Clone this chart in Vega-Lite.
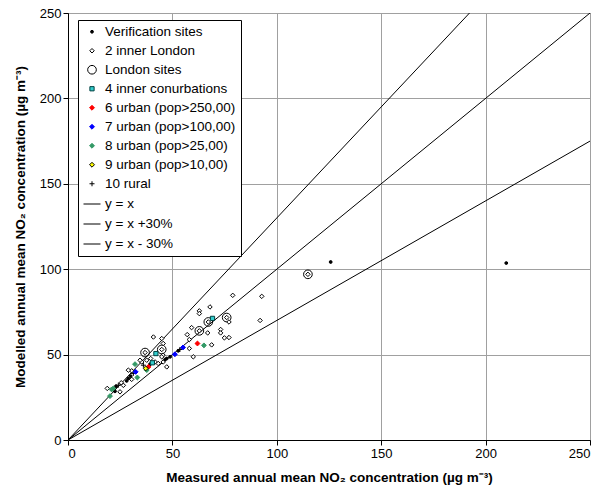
{
  "$schema": "https://vega.github.io/schema/vega-lite/v6.json",
  "width": 522,
  "height": 427,
  "autosize": {"type": "none"},
  "padding": {"left": 68, "top": 13, "right": 10, "bottom": 51},
  "background": "white",
  "config": {
    "view": {"stroke": "black", "strokeWidth": 1},
    "font": "Liberation Sans",
    "axis": {
      "grid": true, "gridColor": "#a0a0a0", "gridWidth": 1, "gridOpacity": 1,
      "domainColor": "black", "tickColor": "black", "tickSize": 5, "labelPadding": 2,
      "labelFont": "Liberation Sans", "labelFontSize": 13, "labelColor": "black",
      "titleFont": "Liberation Sans", "titleFontSize": 13.5, "titleFontWeight": "bold", "titleColor": "black"
    },
    "legend": {
      "title": null, "orient": "none", "legendX": 10, "legendY": 7,
      "strokeColor": "black", "fillColor": "white", "padding": 5,
      "labelFont": "Liberation Sans", "labelFontSize": 13.5, "labelColor": "black",
      "rowPadding": 4, "labelOffset": 4, "labelLimit": 300, "symbolStrokeWidth": 1
    }
  },
  "datasets": {
    "pts": [
      {"group": "London sites", "x": 114.9, "y": 97},
      {"group": "London sites", "x": 76, "y": 71.7},
      {"group": "London sites", "x": 67.2, "y": 69.1},
      {"group": "London sites", "x": 62.9, "y": 63.9},
      {"group": "London sites", "x": 44.9, "y": 53},
      {"group": "London sites", "x": 36.9, "y": 51.2},
      {"group": "2 inner London", "x": 114.9, "y": 97},
      {"group": "2 inner London", "x": 76, "y": 71.7},
      {"group": "2 inner London", "x": 67.2, "y": 69.1},
      {"group": "2 inner London", "x": 62.9, "y": 63.9},
      {"group": "2 inner London", "x": 44.9, "y": 53},
      {"group": "2 inner London", "x": 36.9, "y": 51.2},
      {"group": "2 inner London", "x": 92.8, "y": 84.1},
      {"group": "2 inner London", "x": 92, "y": 70},
      {"group": "2 inner London", "x": 78.9, "y": 84.7},
      {"group": "2 inner London", "x": 68, "y": 77.9},
      {"group": "2 inner London", "x": 62.9, "y": 75.6},
      {"group": "2 inner London", "x": 62.9, "y": 74.0},
      {"group": "2 inner London", "x": 77.1, "y": 69.1},
      {"group": "2 inner London", "x": 66.9, "y": 62.7},
      {"group": "2 inner London", "x": 73.1, "y": 64.7},
      {"group": "2 inner London", "x": 73.1, "y": 62.7},
      {"group": "2 inner London", "x": 74.9, "y": 59.8},
      {"group": "2 inner London", "x": 77.1, "y": 60},
      {"group": "2 inner London", "x": 68.8, "y": 55.7},
      {"group": "2 inner London", "x": 58.1, "y": 58.8},
      {"group": "2 inner London", "x": 58.1, "y": 53.6},
      {"group": "2 inner London", "x": 60, "y": 48.7},
      {"group": "2 inner London", "x": 59.2, "y": 65.8},
      {"group": "2 inner London", "x": 57.1, "y": 61.7},
      {"group": "2 inner London", "x": 40.9, "y": 60.3},
      {"group": "2 inner London", "x": 44.9, "y": 59.4},
      {"group": "2 inner London", "x": 45.6, "y": 56.5},
      {"group": "2 inner London", "x": 45.5, "y": 49.7},
      {"group": "2 inner London", "x": 44.9, "y": 48.7},
      {"group": "2 inner London", "x": 45.6, "y": 45.7},
      {"group": "2 inner London", "x": 47.3, "y": 42.8},
      {"group": "2 inner London", "x": 39.6, "y": 47.7},
      {"group": "2 inner London", "x": 37.7, "y": 46.7},
      {"group": "2 inner London", "x": 35.3, "y": 45.7},
      {"group": "2 inner London", "x": 34.5, "y": 46.7},
      {"group": "2 inner London", "x": 43.2, "y": 44.8},
      {"group": "2 inner London", "x": 41.7, "y": 45.7},
      {"group": "2 inner London", "x": 30.5, "y": 40.5},
      {"group": "2 inner London", "x": 28.9, "y": 40.9},
      {"group": "2 inner London", "x": 26.5, "y": 32},
      {"group": "2 inner London", "x": 24.9, "y": 28.2},
      {"group": "2 inner London", "x": 18.8, "y": 30.2},
      {"group": "2 inner London", "x": 30.5, "y": 35.5},
      {"group": "2 inner London", "x": 25.5, "y": 33.5},
      {"group": "Verification sites", "x": 209.9, "y": 103.6},
      {"group": "Verification sites", "x": 125.8, "y": 104.2},
      {"group": "Verification sites", "x": 52.8, "y": 52.2},
      {"group": "Verification sites", "x": 48.9, "y": 48.7},
      {"group": "Verification sites", "x": 47.3, "y": 47.7},
      {"group": "Verification sites", "x": 46.5, "y": 47.1},
      {"group": "Verification sites", "x": 30, "y": 37.4},
      {"group": "Verification sites", "x": 28.9, "y": 36},
      {"group": "Verification sites", "x": 28.1, "y": 34.6},
      {"group": "Verification sites", "x": 23, "y": 31.5},
      {"group": "Verification sites", "x": 39.3, "y": 44.4},
      {"group": "Verification sites", "x": 22.5, "y": 28.5},
      {"group": "10 rural", "x": 53.6, "y": 53},
      {"group": "10 rural", "x": 31.3, "y": 39},
      {"group": "10 rural", "x": 24.1, "y": 32.1},
      {"group": "10 rural", "x": 36.1, "y": 43.8},
      {"group": "4 inner conurbations", "x": 69.2, "y": 71.2},
      {"group": "4 inner conurbations", "x": 42.1, "y": 50.6},
      {"group": "4 inner conurbations", "x": 40.4, "y": 45.2},
      {"group": "6 urban (pop>250,00)", "x": 62, "y": 56.5},
      {"group": "6 urban (pop>250,00)", "x": 38.5, "y": 42.8},
      {"group": "7 urban (pop>100,00)", "x": 55.1, "y": 54.2},
      {"group": "7 urban (pop>100,00)", "x": 51.2, "y": 50.2},
      {"group": "7 urban (pop>100,00)", "x": 32.4, "y": 39.9},
      {"group": "8 urban (pop>25,00)", "x": 65.1, "y": 55.4},
      {"group": "8 urban (pop>25,00)", "x": 32.1, "y": 44.4},
      {"group": "8 urban (pop>25,00)", "x": 37.7, "y": 40.9},
      {"group": "8 urban (pop>25,00)", "x": 33.2, "y": 36.6},
      {"group": "8 urban (pop>25,00)", "x": 21.7, "y": 30.2},
      {"group": "8 urban (pop>25,00)", "x": 20.9, "y": 29.6},
      {"group": "8 urban (pop>25,00)", "x": 20.1, "y": 25.7},
      {"group": "9 urban (pop>10,00)", "x": 37.2, "y": 41.9}
    ],
    "lines": [
      {"group": "y = x", "x": 0, "y": 0},
      {"group": "y = x", "x": 250, "y": 250},
      {"group": "y = x +30%", "x": 0, "y": 0},
      {"group": "y = x +30%", "x": 192.3, "y": 250},
      {"group": "y = x - 30%", "x": 0, "y": 0},
      {"group": "y = x - 30%", "x": 250, "y": 175}
    ]
  },
  "layer": [
    {
      "data": {"name": "lines"},
      "mark": {"type": "line", "strokeWidth": 1, "clip": true},
      "encoding": {
        "x": {"field": "x", "type": "quantitative", "scale": {"domain": [0, 250], "nice": false},
          "axis": {"grid": true, "values": [0, 50, 100, 150, 200, 250], "title": "Measured annual mean NO₂ concentration (µg m⁻³)", "titlePadding": 10}},
        "y": {"field": "y", "type": "quantitative", "scale": {"domain": [0, 250], "nice": false},
          "axis": {"grid": true, "values": [0, 50, 100, 150, 200, 250], "title": "Modelled annual mean NO₂ concentration (µg m⁻³)", "titlePadding": 12}},
        "stroke": {
          "field": "group", "type": "nominal",
          "scale": {
            "domain": ["Verification sites", "2 inner London", "London sites", "4 inner conurbations", "6 urban (pop>250,00)", "7 urban (pop>100,00)", "8 urban (pop>25,00)", "9 urban (pop>10,00)", "10 rural", "y = x", "y = x +30%", "y = x - 30%"],
            "range": ["black", "black", "black", "#004040", "red", "blue", "#339966", "black", "black", "black", "black", "black"]
          }
        }
      }
    },
    {
      "data": {"name": "pts"},
      "mark": {"type": "point", "strokeWidth": 1, "opacity": 1},
      "encoding": {
        "x": {"field": "x", "type": "quantitative"},
        "y": {"field": "y", "type": "quantitative"},
        "stroke": {"field": "group", "type": "nominal"},
        "fill": {
          "field": "group", "type": "nominal",
          "scale": {
            "domain": ["Verification sites", "2 inner London", "London sites", "4 inner conurbations", "6 urban (pop>250,00)", "7 urban (pop>100,00)", "8 urban (pop>25,00)", "9 urban (pop>10,00)", "10 rural", "y = x", "y = x +30%", "y = x - 30%"],
            "range": ["black", "white", "transparent", "#33cccc", "red", "blue", "#339966", "yellow", "transparent", "transparent", "transparent", "transparent"]
          }
        },
        "shape": {
          "field": "group", "type": "nominal",
          "scale": {
            "domain": ["Verification sites", "2 inner London", "London sites", "4 inner conurbations", "6 urban (pop>250,00)", "7 urban (pop>100,00)", "8 urban (pop>25,00)", "9 urban (pop>10,00)", "10 rural", "y = x", "y = x +30%", "y = x - 30%"],
            "range": ["circle", "diamond", "circle", "square", "diamond", "diamond", "diamond", "diamond", "M-1,0L1,0M0,-1L0,1", "stroke", "stroke", "stroke"]
          }
        },
        "size": {
          "field": "group", "type": "ordinal",
          "scale": {
            "type": "ordinal",
            "domain": ["Verification sites", "2 inner London", "London sites", "4 inner conurbations", "6 urban (pop>250,00)", "7 urban (pop>100,00)", "8 urban (pop>25,00)", "9 urban (pop>10,00)", "10 rural", "y = x", "y = x +30%", "y = x - 30%"],
            "range": [8, 20, 75, 18, 24, 24, 24, 24, 25, 289, 289, 289]
          }
        }
      }
    }
  ]
}
